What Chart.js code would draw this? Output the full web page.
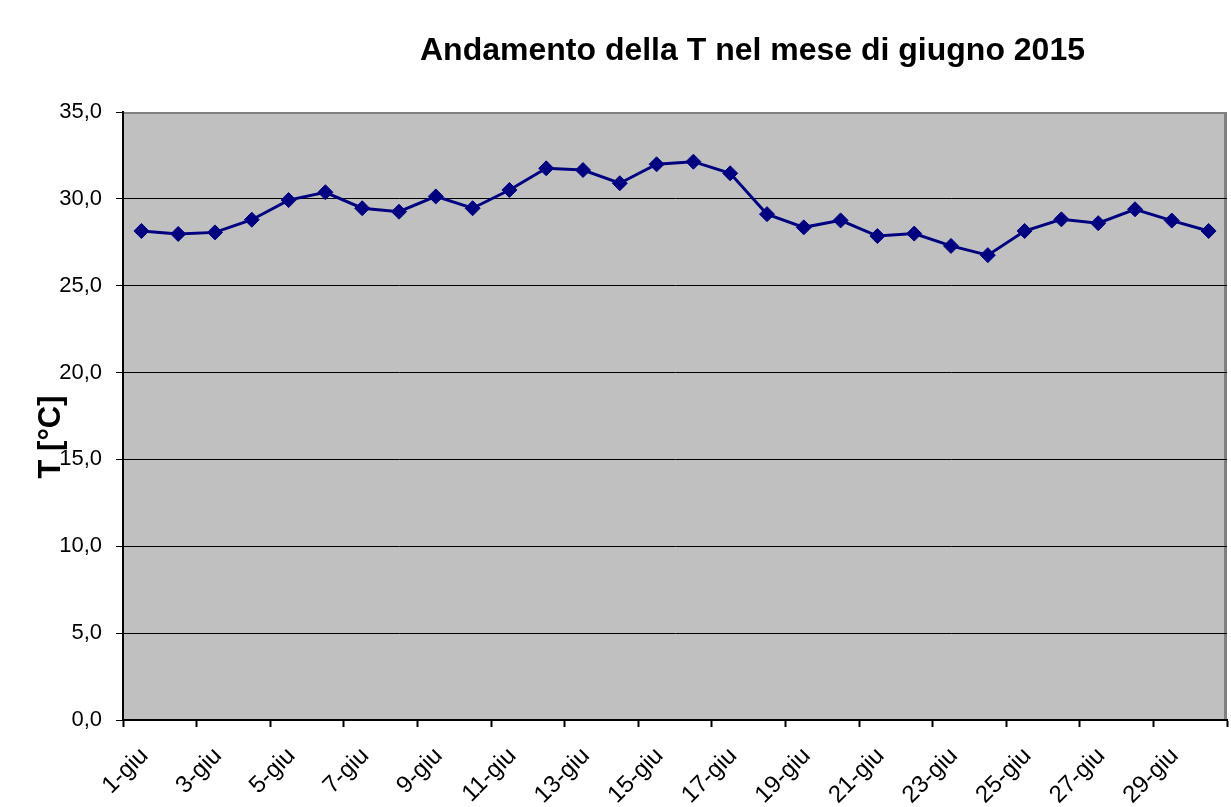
<!DOCTYPE html>
<html>
<head>
<meta charset="utf-8">
<script src="https://cdn.jsdelivr.net/npm/chart.js@4/dist/chart.umd.min.js"></script>
<style>
  html, body { margin: 0; padding: 0; background: #fff; }
  #wrap { width: 1231px; height: 807px; position: relative; }
</style>
</head>
<body>
<div id="wrap"><canvas id="c" width="1231" height="807"></canvas></div>
<script>
const chartTitle = 'Andamento della T nel mese di giugno 2015';
const yAxisTitle = 'T [°C]';
const days = ['1-giu','2-giu','3-giu','4-giu','5-giu','6-giu','7-giu','8-giu','9-giu','10-giu',
  '11-giu','12-giu','13-giu','14-giu','15-giu','16-giu','17-giu','18-giu','19-giu','20-giu',
  '21-giu','22-giu','23-giu','24-giu','25-giu','26-giu','27-giu','28-giu','29-giu','30-giu'];
const temperature = [28.15, 27.98, 28.07, 28.80, 29.93, 30.38, 29.46, 29.26, 30.14, 29.46,
  30.51, 31.76, 31.66, 30.90, 31.99, 32.14, 31.47, 29.12, 28.36, 28.76,
  27.86, 28.00, 27.29, 26.76, 28.15, 28.82, 28.60, 29.40, 28.75, 28.15];
const yTicks = [0, 5, 10, 15, 20, 25, 30, 35];

const FONT = '"Liberation Sans", Arial, sans-serif';

const decorPlugin = {
  id: 'decor',
  beforeDraw(chart) {
    const { ctx, chartArea: a } = chart;
    ctx.save();
    ctx.fillStyle = '#C0C0C0';
    ctx.fillRect(a.left, a.top, a.right - a.left, a.bottom - a.top);
    ctx.strokeStyle = '#808080';
    ctx.lineWidth = 2;
    ctx.beginPath();
    ctx.moveTo(a.left, a.top + 1);
    ctx.lineTo(a.right - 1.5, a.top + 1);
    ctx.stroke();
    ctx.lineWidth = 3;
    ctx.beginPath();
    ctx.moveTo(a.right - 1.5, a.top);
    ctx.lineTo(a.right - 1.5, a.bottom);
    ctx.stroke();
    ctx.restore();
  },
  afterDraw(chart) {
    const { ctx } = chart;
    ctx.save();
    ctx.fillStyle = '#000';
    ctx.font = 'bold 31px ' + FONT;
    ctx.textBaseline = 'alphabetic';
    ctx.textAlign = 'center';
    const w = ctx.measureText(chartTitle).width;
    const sx = 665 / w;
    ctx.translate(752.5, 60);
    ctx.scale(sx, 1);
    ctx.fillText(chartTitle, 0, 0);
    ctx.restore();
    ctx.save();
    ctx.fillStyle = '#000';
    ctx.font = 'bold 31px ' + FONT;
    ctx.textAlign = 'center';
    ctx.textBaseline = 'alphabetic';
    ctx.translate(60, 437);
    ctx.rotate(-Math.PI / 2);
    ctx.fillText(yAxisTitle, 0, 0);
    ctx.restore();
  }
};

new Chart(document.getElementById('c'), {
  type: 'line',
  data: {
    labels: days,
    datasets: [{
      data: temperature,
      borderColor: '#000080',
      backgroundColor: '#000080',
      borderWidth: 3,
      pointStyle: 'rectRot',
      pointRadius: 7.5,
      pointBorderWidth: 1,
      pointBackgroundColor: '#000080',
      pointBorderColor: '#000080',
      tension: 0,
      fill: false,
      clip: false
    }]
  },
  options: {
    responsive: false,
    animation: false,
    devicePixelRatio: 1,
    layout: { autoPadding: false, padding: { top: 112, right: 4, left: 0, bottom: 0 } },
    plugins: {
      legend: { display: false },
      title: { display: false },
      tooltip: { enabled: false }
    },
    scales: {
      x: {
        type: 'category',
        offset: true,
        afterFit(scale) {
          scale.height = 87;
          scale.paddingLeft = 0;
          scale.paddingRight = 0;
        },
        grid: {
          offset: true,
          drawOnChartArea: false,
          drawTicks: true,
          tickLength: 7,
          tickWidth: 2,
          tickColor: (ctx) => (ctx.index === undefined || ctx.index % 2 === 0) ? '#000' : 'rgba(0,0,0,0)',
          color: 'rgba(0,0,0,0)'
        },
        border: { display: true, color: '#000', width: 2 },
        ticks: {
          autoSkip: false,
          minRotation: 45,
          maxRotation: 45,
          padding: 15,
          labelOffset: 3,
          color: '#000',
          font: { family: FONT, size: 24 },
          callback: (v, i) => (i % 2 === 0 ? days[i] : '')
        }
      },
      y: {
        min: 0,
        max: 35,
        afterFit(scale) { scale.width = 123; },
        afterBuildTicks(scale) { scale.ticks = yTicks.map(v => ({ value: v })); },
        grid: {
          drawTicks: true,
          tickLength: 7,
          tickColor: '#000',
          lineWidth: 1,
          color: (ctx) => (ctx.tick && ctx.tick.value === 35) ? 'rgba(0,0,0,0)' : '#000'
        },
        border: { display: true, color: '#000', width: 2 },
        ticks: {
          padding: 14,
          color: '#000',
          font: { family: FONT, size: 22 },
          callback: (v) => v.toFixed(1).replace('.', ',')
        }
      }
    }
  },
  plugins: [decorPlugin]
});
</script>
</body>
</html>
